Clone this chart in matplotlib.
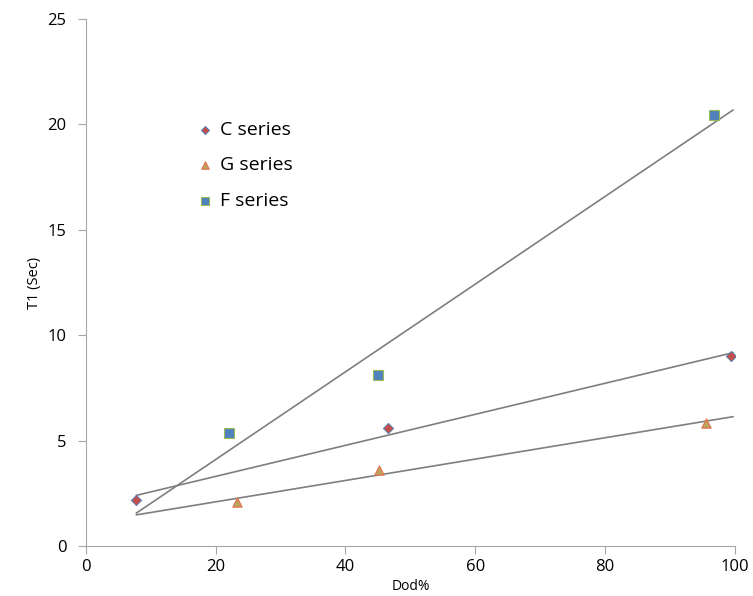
import numpy as np
import matplotlib.pyplot as plt

plt.rcParams['font.family'] = ['Open Sans', 'DejaVu Sans']

# data
c_x = [7.8, 46.5, 99.4]
c_y = [2.2, 5.6, 9.0]
g_x = [23.3, 45.2, 95.5]
g_y = [2.1, 3.6, 5.85]
f_x = [22.0, 45.0, 96.8]
f_y = [5.35, 8.1, 20.45]

fig = plt.figure(figsize=(7.53, 5.96), dpi=100)
ax = fig.add_axes([0.114, 0.084, 0.862, 0.884])

# linear trendlines spanning the full data range
x_lo = min(c_x + g_x + f_x)
x_hi = max(c_x + g_x + f_x)
xs = np.array([x_lo, x_hi + 0.3])
for xv, yv in [(c_x, c_y), (g_x, g_y), (f_x, f_y)]:
    k, b = np.polyfit(xv, yv, 1)
    ax.plot(xs, k * xs + b, color='#7f7f7f', lw=1.2, zorder=1)

ax.scatter(c_x, c_y, marker='D', s=28, color='#c0504d', edgecolors='#4f81bd',
           linewidths=0.6, label='C series', zorder=3)
ax.scatter(g_x, g_y, marker='^', s=45, color='#bea35a', edgecolors='#e07050',
           linewidths=0.8, label='G series', zorder=3)
ax.scatter(f_x, f_y, marker='s', s=45, color='#4f81bd', edgecolors='#9bbb59',
           linewidths=0.8, label='F series', zorder=3)

ax.set_xlim(0, 100)
ax.set_ylim(0, 25)
ax.set_xticks(np.arange(0, 101, 20))
ax.set_yticks(np.arange(0, 26, 5))
ax.set_xlabel('Dod%', fontsize=10, labelpad=3)
ax.set_ylabel('T1 (Sec)', fontsize=10.5, labelpad=4)

for s in ['top', 'right']:
    ax.spines[s].set_visible(False)
for s in ['left', 'bottom']:
    ax.spines[s].set_color('#a6a6a6')
ax.tick_params(colors='#a6a6a6', labelcolor='black', labelsize=12, length=6)
ax.tick_params(axis='y', pad=8)

ax.legend(loc='upper left', bbox_to_anchor=(0.138, 0.84), frameon=False,
          fontsize=14, handletextpad=0.2, labelspacing=0.9, markerscale=0.8,
          handlelength=1.2)

fig.savefig('out.png', dpi=100)
